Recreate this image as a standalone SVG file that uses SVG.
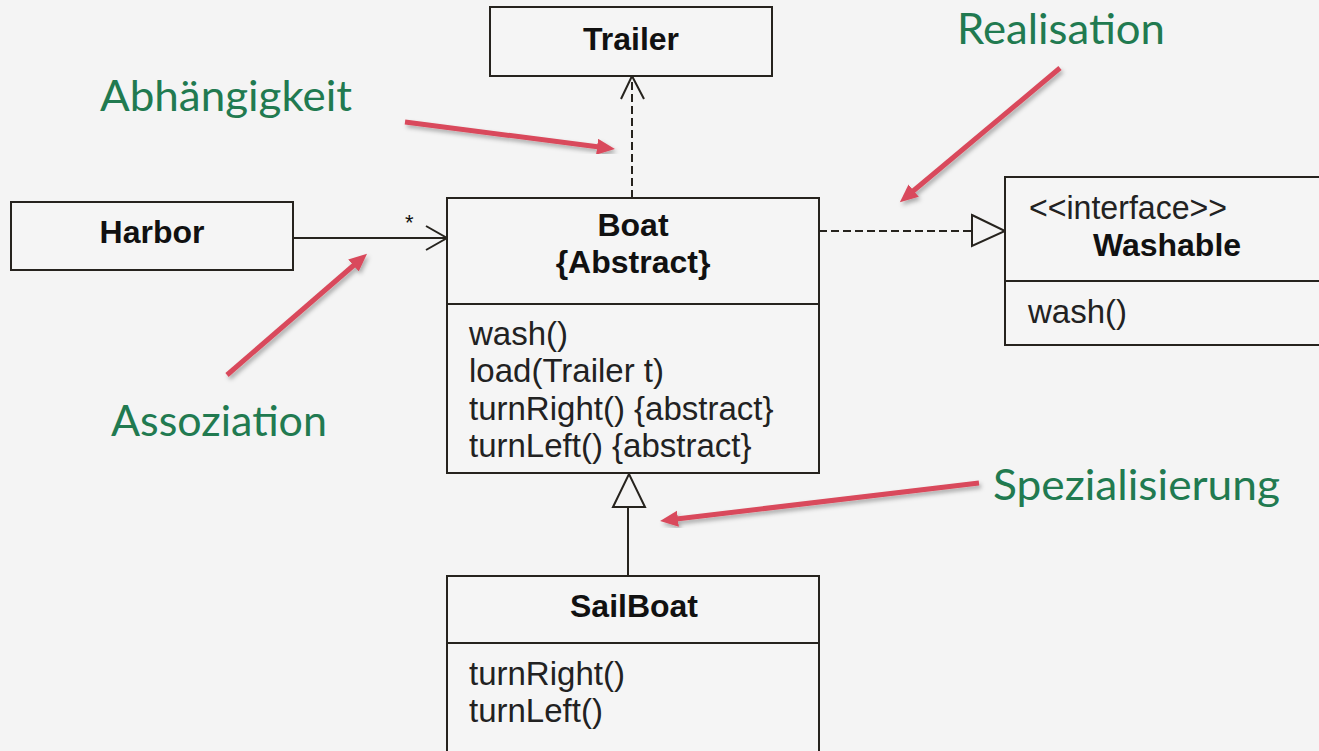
<svg xmlns="http://www.w3.org/2000/svg" width="1319" height="751" viewBox="0 0 1319 751">
<defs>
<style>
.box{fill:#f5f5f5;stroke:#26231e;stroke-width:2}
.div{stroke:#26231e;stroke-width:2}
.title{font-family:"Liberation Sans",Arial,sans-serif;font-weight:bold;font-size:32px;fill:#111;text-anchor:middle}
.op{font-family:"Liberation Sans",Arial,sans-serif;font-size:33px;fill:#222}
.note{font-family:Lato,"Open Sans",sans-serif;font-size:42px;fill:#217a50}
.uml{stroke:#26231e;stroke-width:2;fill:none}
.dash{stroke-dasharray:8 4}
.red{stroke:#d94a5b;stroke-width:5;fill:none;marker-end:url(#rh);filter:url(#sh)}
</style>
<marker id="rh" markerUnits="userSpaceOnUse" markerWidth="20" markerHeight="18" refX="10" refY="8" orient="auto" viewBox="0 0 20 18">
<path d="M0,0 L18,8 L0,16 z" fill="#d94a5b"/>
</marker>
<filter id="sh" x="-20%" y="-20%" width="140%" height="140%">
<feDropShadow dx="2" dy="3" stdDeviation="2" flood-color="#000" flood-opacity="0.3"/>
</filter>
</defs>
<rect width="1319" height="751" fill="#f4f4f4"/>

<g id="connectors">
<!-- dependency Boat -> Trailer -->
<line class="uml dash" x1="632" y1="198" x2="632" y2="78"/>
<polyline class="uml" points="621,99 632,76 644,99"/>
<!-- association Harbor -> Boat -->
<line class="uml" x1="293" y1="238" x2="447" y2="238"/>
<polyline class="uml" points="426,226 447,238 426,250"/>
<text x="405" y="230" font-family="Liberation Sans,Arial,sans-serif" font-size="22" fill="#111">*</text>
<!-- realization Boat -> Washable -->
<line class="uml dash" x1="819" y1="231" x2="972" y2="231"/>
<polygon class="uml" points="972,215 1005,231 972,246"/>
<!-- generalization SailBoat -> Boat -->
<line class="uml" x1="628" y1="576" x2="628" y2="507"/>
<polygon class="uml" points="613,507 629,474 645,507"/>
</g>

<g id="trailer">
<rect class="box" x="490" y="7" width="282" height="69"/>
<text class="title" x="631" y="50">Trailer</text>
</g>

<g id="harbor">
<rect class="box" x="11" y="202" width="282" height="68"/>
<text class="title" x="152" y="243">Harbor</text>
</g>

<g id="boat">
<rect class="box" x="447" y="198" width="372" height="275"/>
<line class="div" x1="447" y1="304" x2="819" y2="304"/>
<text class="title" x="633" y="236">Boat</text>
<text class="title" x="633" y="273">{Abstract}</text>
<text class="op" x="469" y="345">wash()</text>
<text class="op" x="469" y="382">load(Trailer t)</text>
<text class="op" x="469" y="420">turnRight() {abstract}</text>
<text class="op" x="469" y="457">turnLeft() {abstract}</text>
</g>

<g id="washable">
<rect class="box" x="1005" y="177" width="330" height="168"/>
<line class="div" x1="1005" y1="281" x2="1330" y2="281"/>
<text class="op" x="1029" y="219" font-size="27" textLength="198" lengthAdjust="spacingAndGlyphs">&lt;&lt;interface&gt;&gt;</text>
<text class="title" x="1167" y="256">Washable</text>
<text class="op" x="1028" y="323">wash()</text>
</g>

<g id="sailboat">
<rect class="box" x="447" y="576" width="372" height="190"/>
<line class="div" x1="447" y1="643" x2="819" y2="643"/>
<text class="title" x="634" y="617">SailBoat</text>
<text class="op" x="469" y="685">turnRight()</text>
<text class="op" x="469" y="722">turnLeft()</text>
</g>

<g id="annotations">
<line class="red" x1="405" y1="122" x2="607" y2="148"/>
<line class="red" x1="1060" y1="68" x2="906" y2="197"/>
<line class="red" x1="227" y1="375" x2="361" y2="259"/>
<line class="red" x1="979" y1="483" x2="668" y2="520"/>
<text class="note" x="100" y="111" textLength="252" lengthAdjust="spacingAndGlyphs">Abhängigkeit</text>
<text class="note" x="957" y="44" textLength="208" lengthAdjust="spacingAndGlyphs">Realisation</text>
<text class="note" x="111" y="436" textLength="216" lengthAdjust="spacingAndGlyphs">Assoziation</text>
<text class="note" x="993" y="500" textLength="287" lengthAdjust="spacingAndGlyphs">Spezialisierung</text>
</g>
</svg>
